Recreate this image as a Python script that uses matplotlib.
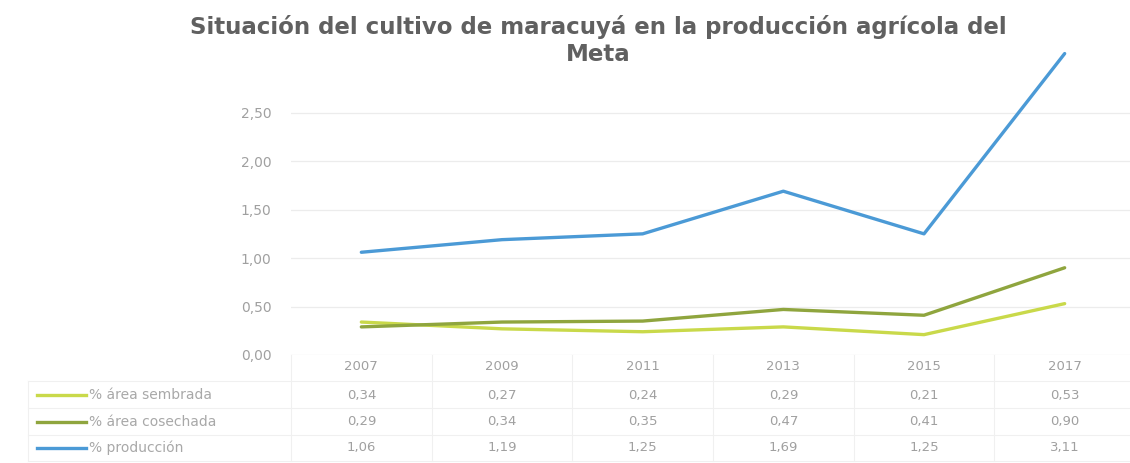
import matplotlib
matplotlib.use("Agg")
import matplotlib.pyplot as plt
import numpy as np
from matplotlib.lines import Line2D

years = ["2007", "2009", "2011", "2013", "2015", "2017"]
series_names = ["% área sembrada", "% área cosechada", "% producción"]
sembrada = [0.34, 0.27, 0.24, 0.29, 0.21, 0.53]
cosechada = [0.29, 0.34, 0.35, 0.47, 0.41, 0.90]
produccion = [1.06, 1.19, 1.25, 1.69, 1.25, 3.11]
yticks = [0.0, 0.5, 1.0, 1.5, 2.0, 2.5]
title = "Situación del cultivo de maracuyá en la producción agrícola del\nMeta"

colors = ["#c9d94a", "#8fa53e", "#4b9ad6"]
values = [sembrada, cosechada, produccion]

W, H = 1130, 463
fig = plt.figure(figsize=(W / 100, H / 100), dpi=100)

left_px, right_px = 291, 1135
top_px, bottom_px = 40, 355
ax = fig.add_axes([left_px / W, 1 - bottom_px / H,
                   (right_px - left_px) / W, (bottom_px - top_px) / H])
x = np.arange(len(years))
ax.set_xlim(-0.5, len(years) - 0.5)
ax.set_ylim(0, 3.25)

for v, c in zip(values, colors):
    ax.plot(x, v, color=c, lw=2.4, solid_capstyle="round", zorder=3)

ax.set_yticks(yticks)
ax.set_yticklabels([f"{t:.2f}".replace(".", ",") for t in yticks],
                   color="#a0a0a0", fontsize=10)
ax.tick_params(axis="y", length=0, pad=14)
ax.set_xticks([])
for s in ax.spines.values():
    s.set_visible(False)
for t in yticks:
    ax.axhline(t, color="#ececec", lw=0.9, zorder=1)

grid_c = "#f0f0f0"
def fy(py):
    return 1 - py / H
def fx(px):
    return px / W

col_w = (right_px - left_px) / len(years)
row_ys = [395, 422, 448]
year_y = 366
for i, yr in enumerate(years):
    cx = left_px + col_w * (i + 0.5)
    fig.text(fx(cx), fy(year_y), yr, ha="center", va="center",
             color="#a0a0a0", fontsize=9.5)
    for r, v in enumerate(values):
        fig.text(fx(cx), fy(row_ys[r]), f"{v[i]:.2f}".replace(".", ","),
                 ha="center", va="center", color="#a0a0a0", fontsize=9.5)

hlines = [381, 408, 435, 461]
for hy in hlines:
    fig.add_artist(Line2D([fx(28), fx(1130)], [fy(hy), fy(hy)],
                          color=grid_c, lw=0.8))
for i in range(len(years) + 1):
    vx = left_px + col_w * i
    fig.add_artist(Line2D([fx(vx), fx(vx)], [fy(355), fy(461)],
                          color=grid_c, lw=0.8))
fig.add_artist(Line2D([fx(28), fx(28)], [fy(381), fy(461)], color=grid_c, lw=0.8))

for r, (name, c) in enumerate(zip(series_names, colors)):
    yy = fy(row_ys[r])
    fig.add_artist(Line2D([fx(37), fx(86)], [yy, yy], color=c, lw=2.4))
    fig.text(fx(89), yy, name, ha="left", va="center", color="#a8a8a8",
             fontsize=10)

fig.text(fx(598), fy(15), title, ha="center", va="top", fontsize=16.5,
         color="#606060", fontweight="bold", linespacing=1.2,
         family="DejaVu Sans")

fig.savefig("out.png", dpi=100, facecolor="white")
